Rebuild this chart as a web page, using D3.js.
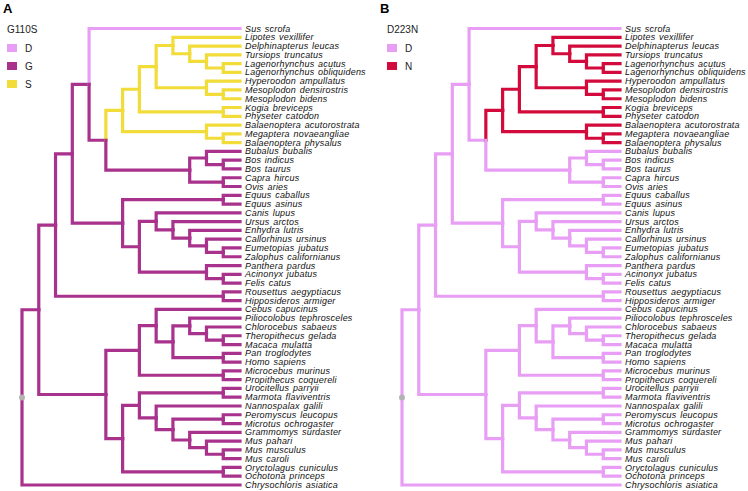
<!DOCTYPE html>
<html><head><meta charset="utf-8">
<script src="https://cdn.jsdelivr.net/npm/d3@7"></script>
<style>
body{margin:0;background:#fff;}
svg{display:block;font-family:"Liberation Sans",Arial,sans-serif;}
</style></head>
<body><div id="chart"></div>
<script>
// Tree topology (cladogram) in Newick pieces, tips in display order
const cetacea = "((((Lipotes_vexillifer,(Delphinapterus_leucas,(Tursiops_truncatus,(Lagenorhynchus_acutus,Lagenorhynchus_obliquidens)))),(Hyperoodon_ampullatus,(Mesoplodon_densirostris,Mesoplodon_bidens))),(Kogia_breviceps,Physeter_catodon)),(Balaenoptera_acutorostrata,(Megaptera_novaeangliae,Balaenoptera_physalus)))Cetacea";
const bovidae = "((Bubalus_bubalis,(Bos_indicus,Bos_taurus)),(Capra_hircus,Ovis_aries))";
const carnivora = "((Canis_lupus,(Ursus_arctos,(Enhydra_lutris,(Callorhinus_ursinus,(Eumetopias_jubatus,Zalophus_californianus))))),(Panthera_pardus,(Acinonyx_jubatus,Felis_catus)))";
const primates = "((Cebus_capucinus,((Piliocolobus_tephrosceles,(Chlorocebus_sabaeus,(Theropithecus_gelada,Macaca_mulatta))),(Pan_troglodytes,Homo_sapiens))),(Microcebus_murinus,Propithecus_coquereli))";
const glires = "(((Urocitellus_parryii,Marmota_flaviventris),(Nannospalax_galili,((Peromyscus_leucopus,Microtus_ochrogaster),(Grammomys_surdaster,(Mus_pahari,(Mus_musculus,Mus_caroli)))))),(Oryctolagus_cuniculus,Ochotona_princeps))";
const newick = "(((((Sus_scrofa,(" + cetacea + "," + bovidae + ")),((Equus_caballus,Equus_asinus)," + carnivora +
  ")),(Rousettus_aegyptiacus,Hipposideros_armiger)),(" + primates + "," + glires + ")),Chrysochloris_asiatica)root;";

// Ancestral states: [branch, state] – inherited by descendants unless overridden
const g110sStates = [["root", "G"], ["Sus_scrofa", "D"], ["Cetacea", "S"]];
const d223nStates = [["root", "D"], ["Cetacea", "N"]];

const g110sLegend = ["D", "G", "S"];
const d223nLegend = ["D", "N"];
const stateColors = {D: "#E89EF5", G: "#A8328C", S: "#F1DC3A", N: "#D30B3C"};

const panels = [
  {label: "A", title: "G110S", states: g110sStates, legend: g110sLegend, x0: 22, x1: 240, lx: 3, gx: 7},
  {label: "B", title: "D223N", states: d223nStates, legend: d223nLegend, x0: 402, x1: 620, lx: 380, gx: 387}
];

function parseNewick(s) {
  let i = 0;
  function node() {
    const n = {children: []};
    if (s[i] === "(") {
      i++;
      n.children.push(node());
      while (s[i] === ",") { i++; n.children.push(node()); }
      i++; // ')'
    }
    let name = "";
    while (i < s.length && !",();".includes(s[i])) name += s[i++];
    n.name = name;
    if (!n.children.length) delete n.children;
    return n;
  }
  return node();
}

const W = 748, H = 491;
const svg = d3.select("#chart").append("svg").attr("width", W).attr("height", H);

const rootData = parseNewick(newick);

panels.forEach(p => {
  const root = d3.hierarchy(rootData);
  root.eachAfter(d => { d.h = d.children ? d3.max(d.children, c => c.h) + 1 : 0; });
  const leaves = root.leaves();
  const maxH = root.h;
  const x = d3.scaleLinear().domain([maxH, 0]).range([p.x0, p.x1]);
  const y = d3.scaleLinear().domain([0, leaves.length - 1]).range([28.5, 485]);
  leaves.forEach((l, i) => l.yy = y(i));
  root.eachAfter(d => { if (d.children) d.yy = d3.mean(d.children, c => c.yy); d.xx = x(d.h); });
  const stMap = new Map(p.states);
  root.eachBefore(d => { d.state = stMap.has(d.data.name) ? stMap.get(d.data.name) : (d.parent ? d.parent.state : "D"); });

  const g = svg.append("g");
  g.selectAll("path.br").data(root.descendants().filter(d => d.parent))
    .join("path").attr("class", "br")
    .attr("d", d => `M${d.parent.xx},${d.parent.yy}V${d.yy}H${d.xx}`)
    .attr("fill", "none")
    .attr("stroke", d => stateColors[d.state])
    .attr("stroke-width", 3.2)
    .attr("stroke-linecap", "square");

  g.append("circle").attr("cx", root.xx).attr("cy", root.yy).attr("r", 3).attr("fill", "#b3b3b3");

  g.selectAll("text.tip").data(leaves).join("text").attr("class", "tip")
    .attr("x", d => d.xx + 5).attr("y", d => d.yy)
    .attr("dy", "0.34em")
    .attr("font-size", 9).attr("font-style", "italic")
    .attr("letter-spacing", "0.2px")
    .attr("word-spacing", "1px")
    .attr("fill", "#111")
    .text(d => d.data.name.replace(/_/g, " "));

  svg.append("text").attr("x", p.lx).attr("y", 13).attr("font-size", 13).attr("font-weight", "bold").text(p.label);
  svg.append("text").attr("x", p.gx).attr("y", 33).attr("font-size", 10).attr("fill", "#222").text(p.title);
  p.legend.forEach((s, i) => {
    const yy = 48 + i * 18;
    svg.append("rect").attr("x", p.gx).attr("y", yy - 4).attr("width", 10).attr("height", 8).attr("fill", stateColors[s]);
    svg.append("text").attr("x", p.gx + 18).attr("y", yy).attr("dy", "0.35em").attr("font-size", 10).attr("fill", "#222").text(s);
  });
});
</script></body></html>
